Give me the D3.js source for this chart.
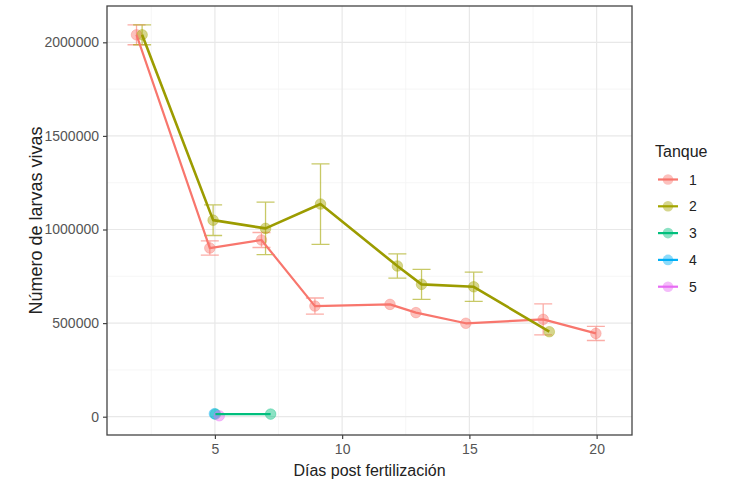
<!DOCTYPE html>
<html><head><meta charset="utf-8">
<script src="https://cdn.jsdelivr.net/npm/d3@7"></script>
<style>body{margin:0;background:#fff;} text{font-family:"Liberation Sans",Arial,sans-serif;}</style>
</head><body>
<svg id="c" width="735" height="480"></svg>
<script>
// Data (x = plotted day position incl. dodge, y = mean larvae, e = error half-width)
const tanks = ["1","2","3","4","5"];
const colors = ["#F8766D","#A3A500","#00BF7D","#00B0F6","#E76BF3"];
const t1x = [1.92, 4.80, 6.83, 8.93, 11.88, 12.90, 14.86, 17.90, 19.97];
const t1y = [2040000, 901000, 944000, 591000, 600000, 556000, 499000, 520000, 445000];
const t1e = [53000, 38000, 40000, 43000, null, null, null, 83000, 38000];
const t2x = [2.14, 4.93, 6.99, 9.15, 12.17, 13.12, 15.17, 18.14];
const t2y = [2040000, 1050000, 1006000, 1136000, 805000, 707000, 694000, 454000];
const t2e = [53000, 82000, 140000, 215000, 65000, 80000, 78000, null];
const t3x = [5.02, 7.19];
const t3y = [14000, 14000];
const t4x = [4.98];
const t4y = [16000];
const t5x = [5.17];
const t5y = [5000];
const xTicks = [5, 10, 15, 20];
const yTicks = [0, 500000, 1000000, 1500000, 2000000];
const xTitle = "Días post fertilización";
const yTitle = "Número de larvas vivas";
const legendTitle = "Tanque";

const series = [
  {x:t1x, y:t1y, e:t1e},
  {x:t2x, y:t2y, e:t2e},
  {x:t3x, y:t3y, e:t3x.map(()=>null)},
  {x:t4x, y:t4y, e:t4x.map(()=>null)},
  {x:t5x, y:t5y, e:t5x.map(()=>null)}
].map((s,i)=>({name:tanks[i], color:colors[i], pts:s.x.map((v,j)=>({x:v,y:s.y[j],e:s.e[j]}))}));

const svg = d3.select("#c");
const L=107, R=632, T=6, B=435;
const x = d3.scaleLinear().domain([0.76, 21.39]).range([L, R]);
const y = d3.scaleLinear().domain([-97760, 2194000]).range([B, T]);

// grid
const g = svg.append("g");
const xMinor = [2.5, 7.5, 12.5, 17.5];
const yMinor = [250000, 750000, 1250000, 1750000];
g.selectAll(".xm").data(xMinor).join("line").attr("x1",d=>x(d)).attr("x2",d=>x(d)).attr("y1",T).attr("y2",B).attr("stroke","#f4f4f4").attr("stroke-width",0.8);
g.selectAll(".ym").data(yMinor).join("line").attr("y1",d=>y(d)).attr("y2",d=>y(d)).attr("x1",L).attr("x2",R).attr("stroke","#f4f4f4").attr("stroke-width",0.8);
g.selectAll(".xM").data(xTicks).join("line").attr("x1",d=>x(d)).attr("x2",d=>x(d)).attr("y1",T).attr("y2",B).attr("stroke","#e8e8e8").attr("stroke-width",1.2);
g.selectAll(".yM").data(yTicks).join("line").attr("y1",d=>y(d)).attr("y2",d=>y(d)).attr("x1",L).attr("x2",R).attr("stroke","#e8e8e8").attr("stroke-width",1.2);

// axes
const xAxis = svg.append("g").attr("transform",`translate(0,${B})`)
  .call(d3.axisBottom(x).tickValues(xTicks).tickSize(4).tickPadding(5).tickFormat(d3.format("d")));
const yAxis = svg.append("g").attr("transform",`translate(${L},0)`)
  .call(d3.axisLeft(y).tickValues(yTicks).tickSize(4).tickPadding(4).tickFormat(d3.format("d")));
[xAxis,yAxis].forEach(a=>{
  a.select(".domain").remove();
  a.selectAll(".tick line").attr("stroke","#444").attr("stroke-width",1.2);
  a.selectAll(".tick text").attr("fill","#555").attr("font-size",14).attr("font-family","Liberation Sans, Arial, sans-serif");
});

// marks
const plot = svg.append("g");
series.forEach(s=>{
  const gs = plot.append("g");
  gs.selectAll("circle").data(s.pts).join("circle")
    .attr("cx",d=>x(d.x)).attr("cy",d=>y(d.y)).attr("r",5.3)
    .attr("fill",s.color).attr("fill-opacity",0.45).attr("stroke",s.color).attr("stroke-opacity",0.35);
  const eb = s.pts.filter(d=>d.e!=null);
  const cw = 9;
  gs.selectAll("path.eb").data(eb).join("path").attr("class","eb")
    .attr("d",d=>{const cx=x(d.x), y1=y(d.y+d.e), y2=y(d.y-d.e);
      return `M${cx-cw},${y1}H${cx+cw}M${cx},${y1}V${y2}M${cx-cw},${y2}H${cx+cw}`;})
    .attr("stroke",s.color).attr("stroke-opacity",0.6).attr("stroke-width",1.3).attr("fill","none");
});
series.forEach((s,i)=>{
  if(s.pts.length<2) return;
  plot.append("path").datum(s.pts)
    .attr("d",d3.line().x(d=>x(d.x)).y(d=>y(d.y)))
    .attr("fill","none").attr("stroke", i==1 ? "#9C9C00" : s.color).attr("stroke-width", i==1?2.6:2.2)
    .attr("stroke-linejoin","round");
});

// panel border
svg.append("rect").attr("x",L).attr("y",T).attr("width",R-L).attr("height",B-T)
  .attr("fill","none").attr("stroke","#444").attr("stroke-width",1.3);

// titles
svg.append("text").attr("x",(L+R)/2).attr("y",476).attr("text-anchor","middle")
  .attr("font-size",16).attr("fill","#222").text(xTitle);
svg.append("text").attr("transform",`translate(42,${(T+B)/2}) rotate(-90)`).attr("text-anchor","middle")
  .attr("font-size",18).attr("fill","#222").text(yTitle);

// legend
const lg = svg.append("g");
lg.append("text").attr("x",655).attr("y",157).attr("font-size",16).attr("fill","#222").text(legendTitle);
series.forEach((s,i)=>{
  const cy = 179.5 + i*26.8;
  lg.append("line").attr("x1",658).attr("x2",678).attr("y1",cy).attr("y2",cy).attr("stroke",s.color).attr("stroke-width",2.2);
  lg.append("circle").attr("cx",668).attr("cy",cy).attr("r",5.3).attr("fill",s.color).attr("fill-opacity",0.45);
  lg.append("text").attr("x",689).attr("y",cy+5).attr("font-size",14).attr("fill","#222").text(s.name);
});
</script>
</body></html>
